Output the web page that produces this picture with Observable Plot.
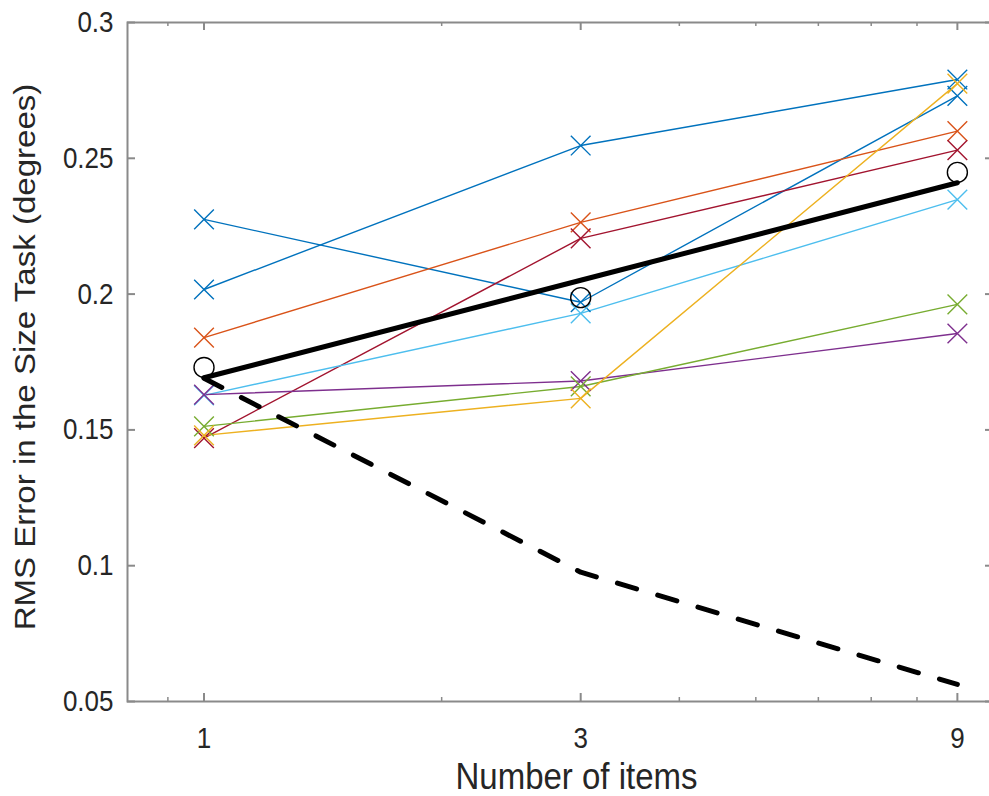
<!DOCTYPE html>
<html>
<head>
<meta charset="utf-8">
<script src="https://cdn.jsdelivr.net/npm/d3@7"></script>
<script src="https://cdn.jsdelivr.net/npm/@observablehq/plot@0.6"></script>
<style>
  html, body { margin: 0; padding: 0; background: #fff; }
  #chart svg { display: block; }
</style>
</head>
<body>
<div id="chart"></div>
<script>
// ---- data ----
const items = [1, 3, 9];
const xTickValues = [1, 3, 9];
const xTickLabels = ["1", "3", "9"];
const xMinorTicks = [0.9, 2, 4, 5, 6, 7, 8];
const yTickValues = [0.05, 0.1, 0.15, 0.2, 0.25, 0.3];
const yTickLabels = ["0.05", "0.1", "0.15", "0.2", "0.25", "0.3"];

const seriesNames = ["S1", "S2", "S3", "S4", "S5", "S6", "S7", "S8"];
const seriesColors = ["#0072BD", "#0072BD", "#D95319", "#A2142F", "#4DBEEE", "#7E2F8E", "#77AC30", "#EDB120"];
const s1 = [0.2275, 0.1970, 0.2730];
const s2 = [0.2017, 0.2547, 0.2790];
const s3 = [0.1840, 0.2264, 0.2600];
const s4 = [0.1470, 0.2205, 0.2530];
const s5 = [0.1627, 0.1929, 0.2348];
const s6 = [0.1630, 0.1680, 0.1855];
const s7 = [0.1513, 0.1660, 0.1962];
const s8 = [0.1480, 0.1616, 0.2775];
const seriesValues = [s1, s2, s3, s4, s5, s6, s7, s8];

const meanValues = [0.1730, 0.1987, 0.2448];
const fitValues = [0.1692, 0.2051, 0.2410];
const predictionValues = [0.1690, 0.0976, 0.0563];

const xTitle = "Number of items";
const yTitle = "RMS Error in the Size Task (degrees)";

// ---- tables built from the arrays ----
const seriesData = seriesValues.flatMap((vals, i) =>
  vals.map((v, j) => ({id: seriesNames[i], color: seriesColors[i], n: items[j], v}))
);
const meanData = items.map((n, j) => ({n, v: meanValues[j]}));
const fitData = items.map((n, j) => ({n, v: fitValues[j]}));
const predData = items.map((n, j) => ({n, v: predictionValues[j]}));
const xLabelData = xTickValues.map((x, i) => ({x, label: xTickLabels[i]}));

const W = 989, H = 796;
const mL = 127, mR = -4, mT = 22, mB = 95;
const innerW = W - mL - mR, innerH = H - mT - mB;
const axisColor = "#8a8a8a";
const textColor = "#262626";
const major = 8, minor = 4;
const stretch = 1.14; // reference text looks vertically elongated

const chart = Plot.plot({
  width: W,
  height: H,
  marginLeft: mL,
  marginRight: mR,
  marginTop: mT,
  marginBottom: mB,
  x: {type: "log", domain: [0.8, 10], axis: null},
  y: {domain: [0.05, 0.3], axis: null},
  color: {type: "identity"},
  style: {fontFamily: "'Liberation Sans', Arial, Helvetica, sans-serif", fontSize: "26px", color: textColor, background: "#fff"},
  marks: [
    // colored series
    Plot.line(seriesData, {x: "n", y: "v", z: "id", stroke: "color", strokeWidth: 1.4}),
    Plot.dot(seriesData, {x: "n", y: "v", stroke: "color", symbol: "times", r: 9, strokeWidth: 1.4}),
    // means
    Plot.dot(meanData, {x: "n", y: "v", r: 10, stroke: "#000", strokeWidth: 1.4, fill: "none"}),
    // fit
    Plot.line(fitData, {x: "n", y: "v", stroke: "#000", strokeWidth: 5}),
    // prediction
    Plot.line(predData, {x: "n", y: "v", stroke: "#000", strokeWidth: 5, strokeDasharray: "20,22"}),
    // box
    Plot.frame({stroke: axisColor, strokeWidth: 2}),
    // y ticks (inward) left & right
    Plot.tickY(yTickValues, {y: d => d, stroke: axisColor, strokeWidth: 2, insetRight: innerW - major}),
    Plot.tickY(yTickValues, {y: d => d, stroke: axisColor, strokeWidth: 2, insetLeft: innerW - major}),
    // x ticks (inward) bottom & top
    Plot.tickX(xTickValues, {x: d => d, stroke: axisColor, strokeWidth: 2, insetTop: innerH - major}),
    Plot.tickX(xTickValues, {x: d => d, stroke: axisColor, strokeWidth: 2, insetBottom: innerH - major}),
    Plot.tickX(xMinorTicks, {x: d => d, stroke: axisColor, strokeWidth: 1.5, insetTop: innerH - minor}),
    Plot.tickX(xMinorTicks, {x: d => d, stroke: axisColor, strokeWidth: 1.5, insetBottom: innerH - minor}),
    // tick labels
    Plot.text(yTickValues, {y: d => d, text: (d, i) => yTickLabels[i], frameAnchor: "left", textAnchor: "end", dx: -14, lineAnchor: "middle", fill: textColor}),
    Plot.text(xLabelData, {x: "x", text: "label", frameAnchor: "bottom", textAnchor: "middle", dy: 37, lineAnchor: "middle", fill: textColor}),
    // titles
    Plot.text([xTitle], {frameAnchor: "bottom", textAnchor: "middle", dy: 75, dx: 16, lineAnchor: "middle", fontSize: 33, fill: textColor}),
    Plot.text([yTitle], {frameAnchor: "left", textAnchor: "middle", rotate: -90, dx: -102, dy: -5, lineAnchor: "middle", fontSize: 29, fill: textColor})
  ]
});

// elongate glyphs vertically on screen, as in the reference
d3.select(chart).selectAll("text").each(function () {
  const t = this.getAttribute("transform") || "";
  if (/rotate\(-90\)/.test(t)) this.setAttribute("transform", t + ` scale(${stretch},1)`);
  else this.setAttribute("transform", t + ` scale(1,${stretch})`);
});

document.getElementById("chart").appendChild(chart);
</script>
</body>
</html>
